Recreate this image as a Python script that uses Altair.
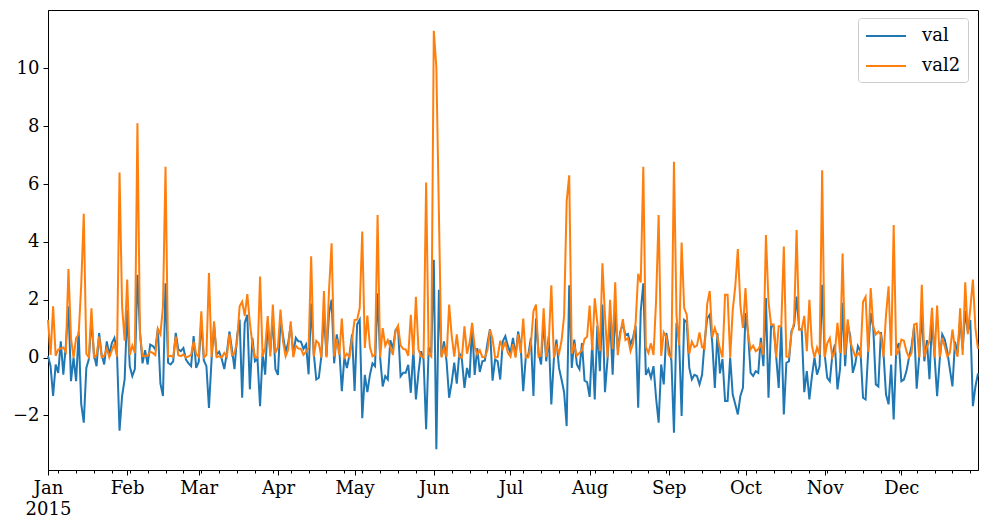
import altair as alt
import pandas as pd

# daily observations for 2015
dates = pd.date_range("2015-01-01", "2015-12-31", freq="D").strftime("%Y-%m-%d").tolist()

val = [
    0.05, -0.3, -1.33, -0.24, -0.53, 0.56, -0.59, 0.45, 1.77, -0.82, 0.0, -0.82, 0.9, -1.6, -2.25, -0.36, -0.05, 1.3, 0.1, -0.3,
    0.85, 0.1, -0.24, 0.56, 0.1, 0.5, 0.68, 0.16, -2.53, -1.33, -0.76, 1.64, -0.3, -0.64, -0.4, 2.86, 0.9, -0.2, 0.25, -0.24,
    0.45, 0.4, 0.28, 1.0, -0.9, -1.33, 2.57, -0.18, -0.24, -0.13, 0.85, 0.28, 0.22, 0.33, -0.07, -0.2, -0.3, 0.74, -0.36, -0.15,
    1.25, -0.1, -0.3, -1.74, -0.1, 1.1, 0.1, 0.2, -0.05, -0.4, 0.16, 0.9, 0.28, -0.4, 0.74, 1.31, -1.39, 1.2, 1.48, -1.1,
    0.68, -0.13, -0.05, -1.68, 0.16, -0.59, 1.2, 0.2, 1.35, -0.4, -0.6, 1.29, 0.74, 0.2, 0.5, 1.12, 0.1, 0.68, 0.56, 0.55,
    0.3, 0.45, -0.58, 1.87, 0.16, -0.76, -0.7, 0.05, 1.5, 0.05, 1.53, 2.0, -0.2, 0.8, 0.3, -1.16, 0.0, -0.36, 0.1, 0.8,
    -1.16, 1.15, 1.31, -2.1, -0.6, -1.2, -0.6, -0.2, -0.3, 2.22, 0.0, -1.0, -0.64, -0.76, 0.6, 0.3, 0.95, 1.05, -0.65, -0.53,
    -0.53, -0.25, -1.22, 0.28, -1.45, -0.53, 0.22, -0.07, -2.48, 0.35, 0.16, 3.38, -3.17, 2.34, 0.05, 0.56, -0.13, -1.39, -0.87, -0.18,
    -0.9, 0.16, -0.07, -1.05, -0.36, -0.7, 1.1, -0.6, 0.33, -0.5, -0.13, -0.1, 0.5, 0.98, -0.8, -0.07, -0.13, -0.76, 0.56, 0.74,
    0.4, 0.16, 0.68, 0.05, 0.9, 0.4, -1.16, 0.0, 0.1, 0.68, -1.33, 1.35, 0.16, -0.24, 1.3, -0.13, 0.74, -1.62, -0.05, 0.62,
    -0.36, -0.76, -1.2, -2.37, 2.5, -0.36, 0.62, -0.24, -0.4, 0.5, -0.8, -0.85, -1.36, 0.5, -1.45, 1.1, -0.47, 1.83, -1.2, -0.05,
    1.4, -0.59, 1.6, 0.28, 0.9, 1.15, 0.78, 0.82, 0.45, 0.7, 1.1, -1.74, 1.6, 2.57, -0.6, -0.41, -0.7, -0.3, -1.4, -2.25,
    -0.24, -0.93, 0.85, 0.3, -0.1, -2.6, 1.2, 0.65, -2.02, 1.3, 1.22, -0.36, -0.76, -0.6, -0.64, -0.93, -0.6, 0.55, 1.35, 1.48,
    0.5, -1.05, 0.85, -0.55, -0.05, -1.5, -1.5, 0.0, -1.28, -1.62, -1.97, -1.33, -1.05, 1.54, 0.85, -0.53, -0.64, -0.47, -0.53, 0.68,
    -0.3, 2.06, -1.39, 1.08, 1.08, 0.05, -1.05, 1.08, -1.97, -0.18, -0.13, 0.92, 1.1, 2.11, 0.98, 0.98, -1.2, -0.47, -1.45, -0.64,
    0.0, -0.59, -0.3, 2.52, 0.1, -0.7, -0.82, 0.1, 0.45, -1.1, -0.4, 1.89, -0.3, 1.15, 0.75, -0.53, -0.2, 0.4, 0.22, -1.39,
    -1.45, 0.16, 1.54, 1.04, -0.93, -1.0, 0.88, 0.16, -1.28, -1.62, -0.24, -2.14, 0.28, 0.5, -0.82, -0.76, -0.47, 0.0, 0.4, 1.06,
    -1.08, 0.05, 1.54, -0.13, 0.6, -0.75, 1.31, 0.05, -1.34, -0.1, 0.8, 0.62, 0.2, -0.41, -1.0, 0.55, 0.16, 1.3, 0.3, 1.61,
    0.9, 1.3, -1.68, -1.0, -0.55,
]

val2 = [
    1.3, 0.09, 1.77, 0.06, 0.28, 0.31, 0.35, 0.2, 3.06, 0.67, 0.0, 0.67, 0.8, 2.5, 4.97, 0.13, 0.0, 1.7, 0.01, 0.09,
    0.72, 0.01, 0.06, 0.31, 0.01, 0.25, 0.46, 0.03, 6.4, 1.77, 0.58, 2.7, 0.09, 0.41, 0.16, 8.1, 0.81, 0.04, 0.06, 0.06,
    0.2, 0.16, 0.08, 1.0, 0.81, 1.77, 6.6, 0.03, 0.06, 0.02, 0.72, 0.08, 0.05, 0.11, 0.0, 0.04, 0.09, 0.55, 0.13, 0.02,
    1.6, 0.01, 0.09, 2.92, 0.01, 1.25, 0.01, 0.04, 0.0, 0.16, 0.03, 0.81, 0.08, 0.16, 0.55, 1.77, 1.93, 1.44, 2.19, 1.21,
    0.46, 0.02, 0.0, 2.8, 0.03, 0.35, 1.43, 0.04, 1.83, 0.16, 0.36, 1.66, 0.55, 0.04, 0.27, 1.25, 0.01, 0.41, 0.31, 0.3,
    0.09, 0.2, 0.34, 3.5, 0.03, 0.58, 0.49, 0.0, 2.3, 0.0, 2.35, 3.95, 0.04, 0.64, 0.09, 1.35, 0.0, 0.13, 0.01, 0.64,
    1.3, 1.31, 1.71, 4.36, 0.33, 1.45, 0.36, 0.04, 0.09, 4.93, 0.0, 1.02, 0.41, 0.6, 0.36, 0.09, 0.9, 1.1, 0.42, 0.3,
    0.28, 0.06, 1.48, 0.08, 2.1, 0.28, 0.05, 0.0, 6.05, 0.12, 0.03, 11.3, 10.05, 5.0, 0.0, 0.31, 0.02, 1.83, 0.76, 0.03,
    0.8, 0.03, 0.0, 1.08, 0.13, 0.5, 1.2, 0.36, 0.11, 0.25, 0.02, 0.01, 0.25, 0.96, 0.64, 0.0, 0.02, 0.58, 0.31, 0.53,
    0.16, 0.03, 0.46, 0.0, 0.8, 0.16, 1.35, 0.0, 0.01, 0.46, 1.6, 1.83, 0.03, 0.06, 1.7, 0.02, 0.55, 2.5, 0.0, 0.38,
    0.13, 0.58, 1.44, 5.4, 6.3, 0.13, 0.4, 0.06, 0.16, 0.25, 0.64, 0.72, 1.8, 0.25, 2.05, 1.2, 0.22, 3.26, 1.44, 0.0,
    2.0, 0.3, 2.6, 0.08, 0.81, 1.33, 0.61, 0.67, 0.22, 0.49, 1.2, 2.9, 2.6, 6.6, 0.36, 0.16, 0.49, 0.09, 1.96, 4.93,
    0.06, 0.87, 0.72, 0.09, 0.01, 6.77, 1.44, 0.42, 3.98, 1.71, 1.48, 0.13, 0.55, 0.36, 0.41, 0.87, 0.36, 0.3, 1.85, 2.3,
    0.7, 1.02, 0.72, 0.3, 0.0, 2.17, 2.17, 0.0, 1.64, 2.46, 3.75, 1.8, 1.02, 2.4, 0.8, 0.28, 0.41, 0.22, 0.28, 0.46,
    0.09, 4.24, 1.93, 1.14, 1.14, 0.0, 1.08, 1.08, 3.84, 0.03, 0.02, 0.85, 1.2, 4.41, 0.96, 0.96, 1.44, 0.22, 2.0, 0.41,
    0.0, 0.35, 0.09, 6.48, 0.01, 0.49, 0.67, 0.01, 0.2, 1.2, 0.16, 3.6, 0.09, 1.32, 0.56, 0.28, 0.04, 0.16, 0.05, 1.93,
    2.1, 0.2, 2.4, 1.08, 0.8, 0.9, 0.78, 0.03, 1.48, 2.46, 0.06, 4.58, 0.08, 0.25, 0.62, 0.58, 0.22, 0.0, 0.16, 1.14,
    1.17, 0.0, 2.52, 0.02, 0.36, 0.56, 1.72, 0.0, 1.8, 0.01, 0.68, 0.38, 0.04, 0.17, 0.97, 0.3, 0.03, 1.7, 0.09, 2.6,
    0.81, 1.7, 2.7, 1.0, 0.3,
]

series_names = ["val", "val2"]
series_colors = ["#1f77b4", "#ff7f0e"]
y_ticks = [-2, 0, 2, 4, 6, 8, 10]
y_domain = [-3.89, 12.02]

df = pd.DataFrame({"date": dates, "val": val, "val2": val2})

# x ticks: month starts (major, labelled) and Mondays (minor)
month_starts = pd.date_range("2015-01-01", "2015-12-01", freq="MS")
mondays = pd.date_range("2015-01-05", "2015-12-31", freq="W-MON")
tick_ms = sorted({int(t.value // 10**6) for t in month_starts.append(mondays)})

FONT = "DejaVu Serif"
FS = 18

x_enc = alt.X(
    "date:T",
    scale=alt.Scale(
        type="utc",
        domain=[alt.DateTime(year=2015, month=1, date=1, utc=True),
                alt.DateTime(year=2015, month=12, date=31, utc=True)],
        nice=False,
    ),
    axis=alt.Axis(
        title=None,
        values=tick_ms,
        grid=False,
        labelAngle=0,
        labelAlign="center",
        labelBaseline="top",
        labelPadding=4,
        labelLineHeight=21,
        labelFlush=False,
        labelOverlap=False,
        tickSize={"condition": {"test": "utcdate(datum.value) == 1", "value": 5}, "value": 3},
        labelExpr=(
            "utcdate(datum.value) != 1 ? '' : "
            "(utcmonth(datum.value) == 0 ? [utcFormat(datum.value, '%b'), utcFormat(datum.value, '%Y')] "
            ": utcFormat(datum.value, '%b'))"
        ),
    ),
)

y_axis = alt.Axis(title=None, values=y_ticks, grid=False, tickSize=5, labelPadding=4)

color_scale = alt.Scale(domain=series_names, range=series_colors)
# legend key: a horizontal stroke, 40px long, starting at the symbol column's left edge
legend = alt.Legend(
    title=None,
    orient="none",
    legendX=810,
    legendY=8,
    symbolType="M-1,0H3",
    symbolSize=400,
    symbolStrokeWidth=2,
    labelFont=FONT,
    labelFontSize=FS,
    labelOffset=35,
    rowPadding=10,
    padding=7,
    strokeColor="#cccccc",
    fillColor="white",
    cornerRadius=3,
)

base = alt.Chart(df)

line_val = base.mark_line(strokeWidth=2).encode(
    x=x_enc,
    y=alt.Y("val:Q", scale=alt.Scale(domain=y_domain, nice=False, zero=False), axis=y_axis),
    color=alt.Color("series:N", scale=color_scale, legend=legend),
).transform_calculate(series="'val'")

line_val2 = base.mark_line(strokeWidth=2).encode(
    x=x_enc,
    y=alt.Y("val2:Q"),
    color=alt.Color("series:N", scale=color_scale, legend=legend),
).transform_calculate(series="'val2'")

chart = (
    alt.layer(line_val, line_val2)
    .properties(
        width=930,
        height=460,
        autosize=alt.AutoSizeParams(type="none"),
        padding={"left": 48, "top": 10, "right": 10, "bottom": 60},
        background="white",
    )
    .configure_view(stroke="black", strokeWidth=1)
    .configure_axis(
        labelFont=FONT,
        labelFontSize=FS,
        labelColor="black",
        tickColor="black",
        domainColor="black",
        domainWidth=1,
        tickWidth=1,
    )
)

chart.save("out.html", embed_options={"renderer": "svg", "actions": False})
